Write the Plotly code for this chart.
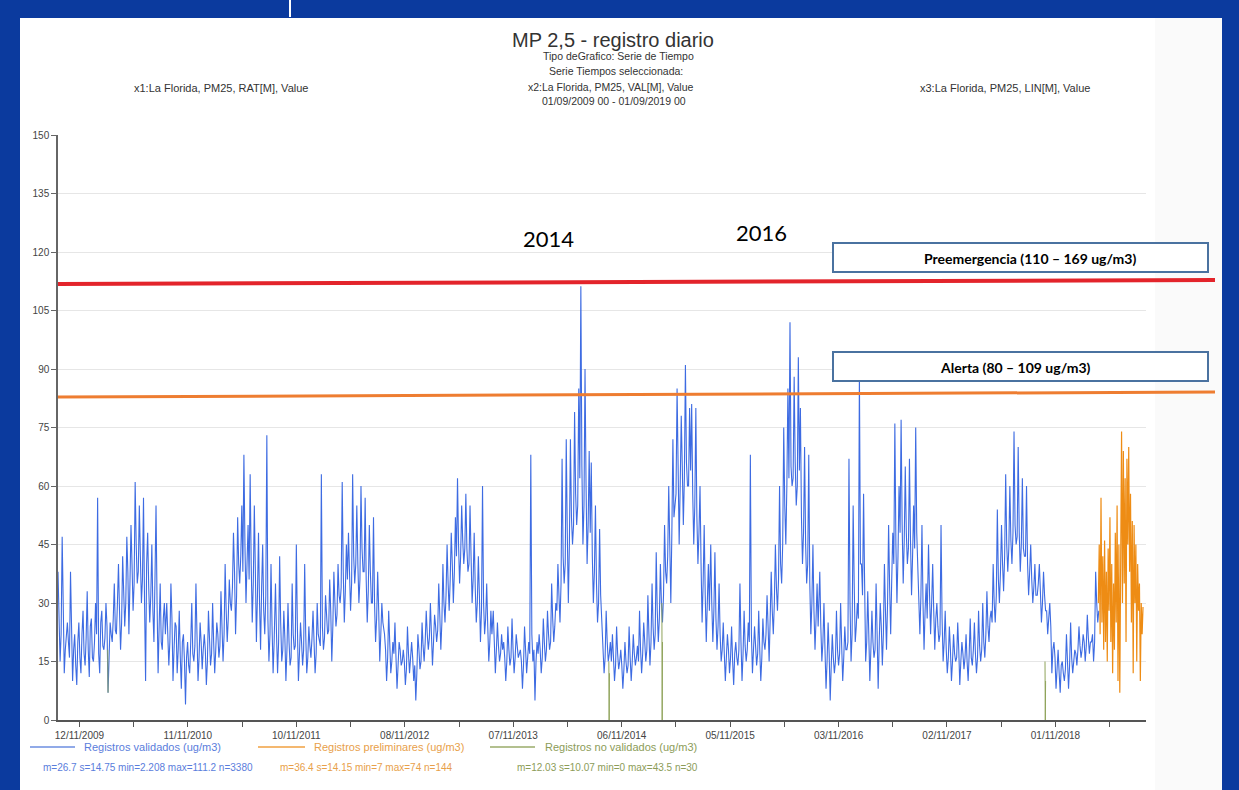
import plotly.graph_objects as go
import pandas as pd

# ---------------- data ----------------
# "Registros validados": two readings per week per season year (starting Sept 1)
# a-lists: start of each week, b-lists: middle of each week
blue_2009 = [38,15,47,12,22, 20,38,10,22, 9,25,12,28, 14,33,11,26,15, 30,57,12,28, 18,30,7,25,
             20,35,22,40,18, 42,24,47,22, 50,28,61,35,55, 30,57,10,48, 25,45,20,55, 12,35,18,30]
blue_2010 = [30,14,35,10,25, 12,28,8,22, 4,20,12,30, 15,35,10,25,13, 22,9,28,14, 30,12,25,16,
             33,15,40,20,36, 28,48,22,52, 35,55,68,30,50, 63,25,55,20, 48,18,45,22, 73,15,40,12]
blue_2011 = [35,12,42,15,28, 10,30,14,35, 18,45,10,25, 14,40,12,24,16, 28,12,30,20, 63,18,32,22,
             36,15,38,24,40, 30,61,25,45, 48,28,63,35, 55,30,60,38, 57,25,50,30, 52,20,38,15,30]
blue_2012 = [22,10,28,12,20, 25,8,20,14, 18,9,24,12, 20,10,5,22,13, 25,15,28,18, 30,14,27,20,
             35,18,40,25,45, 28,48,30,52, 62,35,55,40, 58,38,55,30, 48,25,42,20, 60,22,35,15,28]
blue_2013 = [28,12,25,15,22, 20,10,24,14, 26,12,22,16, 18,8,24,12,20, 68,15,5,20, 22,12,26,15,
             28,18,35,20,30, 40,25,67,35, 72,30,72,45, 79,50,85,111.2, 45,90,40,69, 66,30,55,25,49]
blue_2014 = [25,12,28,15,20, 22,10,24,13, 18,8,20,12, 24,10,22,14,19, 28,12,25,15, 32,14,35,18,
             43,20,40,25,50, 35,60,30,72, 55,85,45,78, 50,91,60,80, 81,45,80,40, 60,25,50,20,40]
blue_2015 = [45,20,43,18,35, 15,25,10,22, 12,24,9,20, 14,35,10,28,15, 25,68,12,24, 14,28,10,26,
             18,32,15,38,22, 45,28,60,35, 75,45,85,102, 60,88,55,93, 80,40,70,35, 68,22,45,18,35]
blue_2016 = [38,15,30,8,25, 5,22,12,28, 14,30,10,24, 18,67,15,55,20, 30,89,40,58, 15,33,10,28,
             16,35,8,30,14, 40,18,50,22, 48,76,30,60, 77,35,65,40, 67,32,55,75, 40,22,50,18,35]
blue_2017 = [45,22,40,18,30, 20,50,15,28, 12,24,10,22, 15,25,9,20,13, 22,10,26,14, 25,12,28,15,
             30,16,33,20,28, 40,25,54,30, 50,33,63,38, 60,40,74,45, 70,38,62,42, 60,32,45,30,40]
blue_2018 = [32,40,25,38,28, 22,30,12,20, 8,18,7,15, 10,22,8,25,12, 18,14,24,16, 22,15,27,17,
             20,15,38,25]

blue_2009_b = [28,22,30,18,25, 16,24,18,14, 20,16,22,17, 21,18,24,16,20, 22,17,25,19, 21,24,16,22,
               26,23,30,28,25, 33,30,38,35, 40,35,45,38,42, 36,30,40,34, 32,28,36,30, 24,20,26,22]
blue_2010_b = [22,20,26,18,24, 18,16,20,15, 16,14,20,17, 19,22,16,20,18, 18,15,21,17, 20,18,22,19,
               24,22,28,26,30, 34,38,32,40, 42,38,45,40,36, 40,35,38,32, 30,34,28,32, 26,22,24,20]
blue_2011_b = [22,20,25,18,21, 18,20,16,22, 19,24,17,20, 18,22,16,19,21, 20,17,22,19, 24,21,25,23,
               28,24,30,27,32, 34,38,33,36, 38,35,42,40, 40,36,44,38, 36,33,38,30, 30,26,28,22,25]
blue_2012_b = [18,16,20,15,17, 16,14,18,15, 15,13,17,16, 16,14,12,18,15, 19,20,22,21, 22,20,24,23,
               27,25,30,32,35, 36,40,38,42, 45,42,46,44, 44,40,42,36, 34,30,32,28, 30,26,24,20,22]
blue_2013_b = [20,18,19,17,18, 16,15,18,16, 18,16,19,17, 15,14,18,16,17, 22,18,15,17, 18,16,20,18,
               22,20,26,24,28, 32,35,42,40, 48,45,52,50, 58,55,62,65, 55,60,50,48, 42,38,35,30,32]
blue_2014_b = [18,16,20,17,15, 16,14,17,15, 14,13,15,14, 16,15,17,16,15, 18,17,20,18, 22,20,24,22,
               28,26,30,32,38, 42,45,48,52, 58,62,60,65, 62,66,60,64, 58,55,52,48, 40,35,32,30,28]
blue_2015_b = [30,28,26,24,22, 18,17,16,18, 16,15,17,16, 18,20,17,19,18, 20,22,18,19, 17,18,16,20,
               22,24,26,28,30, 34,36,40,45, 55,60,62,65, 62,66,60,64, 52,48,45,40, 35,30,28,26,24]
blue_2016_b = [24,20,18,15,17, 14,16,15,18, 17,19,16,18, 20,30,22,35,24, 26,40,32,35, 20,22,18,20,
               18,22,20,24,22, 28,30,34,36, 40,45,42,48, 50,46,48,44, 46,42,44,48, 35,32,30,28,26]
blue_2017_b = [32,30,28,26,24, 22,26,20,18, 16,18,15,17, 16,18,15,17,16, 15,17,16,18, 17,16,19,18,
               20,22,24,26,25, 30,32,36,38, 40,42,45,44, 46,48,50,47, 48,45,44,42, 40,38,36,34,32]
blue_2018_b = [35,33,30,32,28, 26,24,18,16, 13,12,14,12, 13,15,14,16,15, 17,18,19,18, 20,19,21,20,
               22,20,30,28]

blue_years = [2009, 2010, 2011, 2012, 2013, 2014, 2015, 2016, 2017, 2018]
blue_a = [blue_2009, blue_2010, blue_2011, blue_2012, blue_2013,
          blue_2014, blue_2015, blue_2016, blue_2017, blue_2018]
blue_b = [blue_2009_b, blue_2010_b, blue_2011_b, blue_2012_b, blue_2013_b,
          blue_2014_b, blue_2015_b, blue_2016_b, blue_2017_b, blue_2018_b]

# "Registros preliminares" every 3 days from 2019-03-25
orange_start = "2019-03-25"
orange_values = [30,45,22,57,25,42,18,46,20,38,15,44,28,52,20,40,12,35,18,48,25,55,10,45,7,60,
                 74,30,69,35,62,20,67,45,70,38,58,25,51,12,50,30,45,15,40,28,35,10,30,22,29]

# "Registros no validados" (short drops)
green_dates = ["2010-02-15", "2010-02-16", None,
               "2014-09-24", "2014-09-25", "2014-09-26", None,
               "2015-03-21", "2015-03-22", "2015-03-23", None,
               "2018-09-27", "2018-09-28", "2018-09-29"]
green_values = [18, 7, None, 15, 0, 12, None, 30, 0, 20, None, 15, 0, 10]

# axis ticks
x_tick_dates = ["2009-11-12", "2010-05-13", "2010-11-11", "2011-05-12", "2011-11-10", "2012-05-10",
                "2012-11-08", "2013-05-09", "2013-11-07", "2014-05-08", "2014-11-06", "2015-05-07",
                "2015-11-05", "2016-05-05", "2016-11-03", "2017-05-04", "2017-11-02", "2018-05-03",
                "2018-11-01", "2019-05-02"]
x_tick_labels = ["12/11/2009", "", "11/11/2010", "", "10/11/2011", "", "08/11/2012", "",
                 "07/11/2013", "", "06/11/2014", "", "05/11/2015", "", "03/11/2016", "",
                 "02/11/2017", "", "01/11/2018", ""]
y_ticks = [0, 15, 30, 45, 60, 75, 90, 105, 120, 135, 150]

preemergencia_line = (111.8, 112.8)   # drawn threshold (left, right)
alerta_line = (82.8, 84.1)

# ---------------- figure ----------------
W, H = 1239, 790
L, R, T, B = 58, 1146, 135, 720
NARROW = "Liberation Sans Narrow, Arial Narrow, Liberation Sans, Arial, sans-serif"
CAL = "Lato, Carlito, Calibri, sans-serif"


def px(x):
    return (x - L) / (R - L)


def py(y):
    return (B - y) / (B - T)


blue_x, blue_y = [], []
for yr, va, vb in zip(blue_years, blue_a, blue_b):
    da = pd.date_range(f"{yr}-09-01", periods=len(va), freq="7D")
    db = da + pd.Timedelta(hours=84)
    for d1, v1, d2, v2 in zip(da, va, db, vb):
        blue_x += [d1, d2]
        blue_y += [v1, v2]

orange_x = pd.date_range(orange_start, periods=len(orange_values), freq="3D")

fig = go.Figure()
fig.add_trace(go.Scatter(x=blue_x, y=blue_y, mode="lines",
                         line=dict(color="#3d6be2", width=1.1), showlegend=False))
fig.add_trace(go.Scatter(x=orange_x, y=orange_values, mode="lines",
                         line=dict(color="#ee8c14", width=1.2), showlegend=False))
fig.add_trace(go.Scatter(x=green_dates, y=green_values, mode="lines", connectgaps=False,
                         line=dict(color="#8fa35a", width=1), showlegend=False))

shapes = []
# slide white area
shapes.append(dict(type="rect", xref="paper", yref="paper", x0=px(20), x1=px(1222),
                   y0=py(18), y1=py(790), fillcolor="white", line=dict(width=0), layer="below"))
shapes.append(dict(type="rect", xref="paper", yref="paper", x0=px(1155), x1=px(1222),
                   y0=py(18), y1=py(790), fillcolor="#fafafa", line=dict(width=0), layer="below"))
shapes.append(dict(type="line", xref="paper", yref="paper", x0=px(290), x1=px(290),
                   y0=py(0), y1=py(17), line=dict(color="white", width=2)))
# threshold lines
shapes.append(dict(type="line", xref="paper", yref="paper", x0=0, x1=px(1215),
                   y0=preemergencia_line[0] / 150, y1=preemergencia_line[1] / 150,
                   line=dict(color="#e3242b", width=4)))
shapes.append(dict(type="line", xref="paper", yref="paper", x0=0, x1=px(1215),
                   y0=alerta_line[0] / 150, y1=alerta_line[1] / 150,
                   line=dict(color="#ee7d31", width=3)))
# label boxes
for (y0, y1) in [(243, 272), (352, 381)]:
    shapes.append(dict(type="rect", xref="paper", yref="paper", x0=px(833), x1=px(1208),
                       y0=py(y1), y1=py(y0), fillcolor="white",
                       line=dict(color="#4a72a0", width=2)))
# legend samples
for (x0, x1, c) in [(30, 75, "#6d8ee0"), (258, 305, "#f0a040"), (490, 535, "#9aab6a")]:
    shapes.append(dict(type="line", xref="paper", yref="paper", x0=px(x0), x1=px(x1),
                       y0=py(747), y1=py(747), line=dict(color=c, width=1.5)))

ann = []


def text(t, x, y, size, color="#333", family=NARROW, xanchor="center", bold=False):
    if bold:
        t = f"<b>{t}</b>"
    ann.append(dict(text=t, x=px(x), y=py(y), xref="paper", yref="paper", showarrow=False,
                    xanchor=xanchor, yanchor="middle",
                    font=dict(size=size, color=color, family=family)))


text("MP 2,5 - registro diario", 613, 40, 20)
text("Tipo deGrafico: Serie de Tiempo", 618, 56, 10.5)
text("Serie Tiempos seleccionada:", 616, 71, 10.5)
text("x2:La Florida, PM25, VAL[M], Value", 611, 87, 10.5)
text("01/09/2009 00 - 01/09/2019 00", 614, 101, 10.5)
text("x1:La Florida, PM25, RAT[M], Value", 221, 88, 11)
text("x3:La Florida, PM25, LIN[M], Value", 1005, 88, 11)
text("2014", 548, 238, 22, color="black", family=CAL)
text("2016", 761, 233, 22, color="black", family=CAL)
text("Preemergencia (110 – 169 ug/m3)", 1030, 258, 14, color="black", family=CAL, bold=True)
text("Alerta (80 – 109 ug/m3)", 1015, 367, 14, color="black", family=CAL, bold=True)
text("Registros validados (ug/m3)", 82, 747, 11, color="#5a7ddc", xanchor="left")
text("m=26.7 s=14.75 min=2.208 max=111.2 n=3380", 148, 767, 10, color="#5a7ddc")
text("Registros preliminares (ug/m3)", 312, 747, 11, color="#e8a04a", xanchor="left")
text("m=36.4 s=14.15 min=7 max=74 n=144", 366, 767, 10, color="#e8a04a")
text("Registros no validados (ug/m3)", 543, 747, 11, color="#8c9c58", xanchor="left")
text("m=12.03 s=10.07 min=0 max=43.5 n=30", 607, 767, 10, color="#8c9c58")

fig.update_layout(
    width=W, height=H, autosize=False,
    margin=dict(l=L, r=W - R, t=T, b=H - B, pad=0),
    paper_bgcolor="#0b3a9e", plot_bgcolor="white",
    shapes=shapes, annotations=ann, showlegend=False,
    xaxis=dict(type="date", range=["2009-09-01", "2019-09-01"], tickvals=x_tick_dates,
               ticktext=x_tick_labels, showgrid=False, zeroline=False, showline=True,
               linecolor="#555", linewidth=1.5, ticks="outside", ticklen=5, tickcolor="#555",
               tickfont=dict(size=10, color="#444", family=NARROW)),
    yaxis=dict(range=[0, 150], tickvals=y_ticks, showgrid=True, gridcolor="#e6e6e6",
               zeroline=False, showline=True, linecolor="#666", linewidth=1.5,
               ticks="outside", ticklen=5, tickcolor="#666",
               tickfont=dict(size=10, color="#444", family=NARROW)),
)

fig.write_html("out.html", config={"displayModeBar": False},
               post_script="document.body.style.margin='0';document.body.style.padding='0';"
                           "document.body.style.overflow='hidden';")
